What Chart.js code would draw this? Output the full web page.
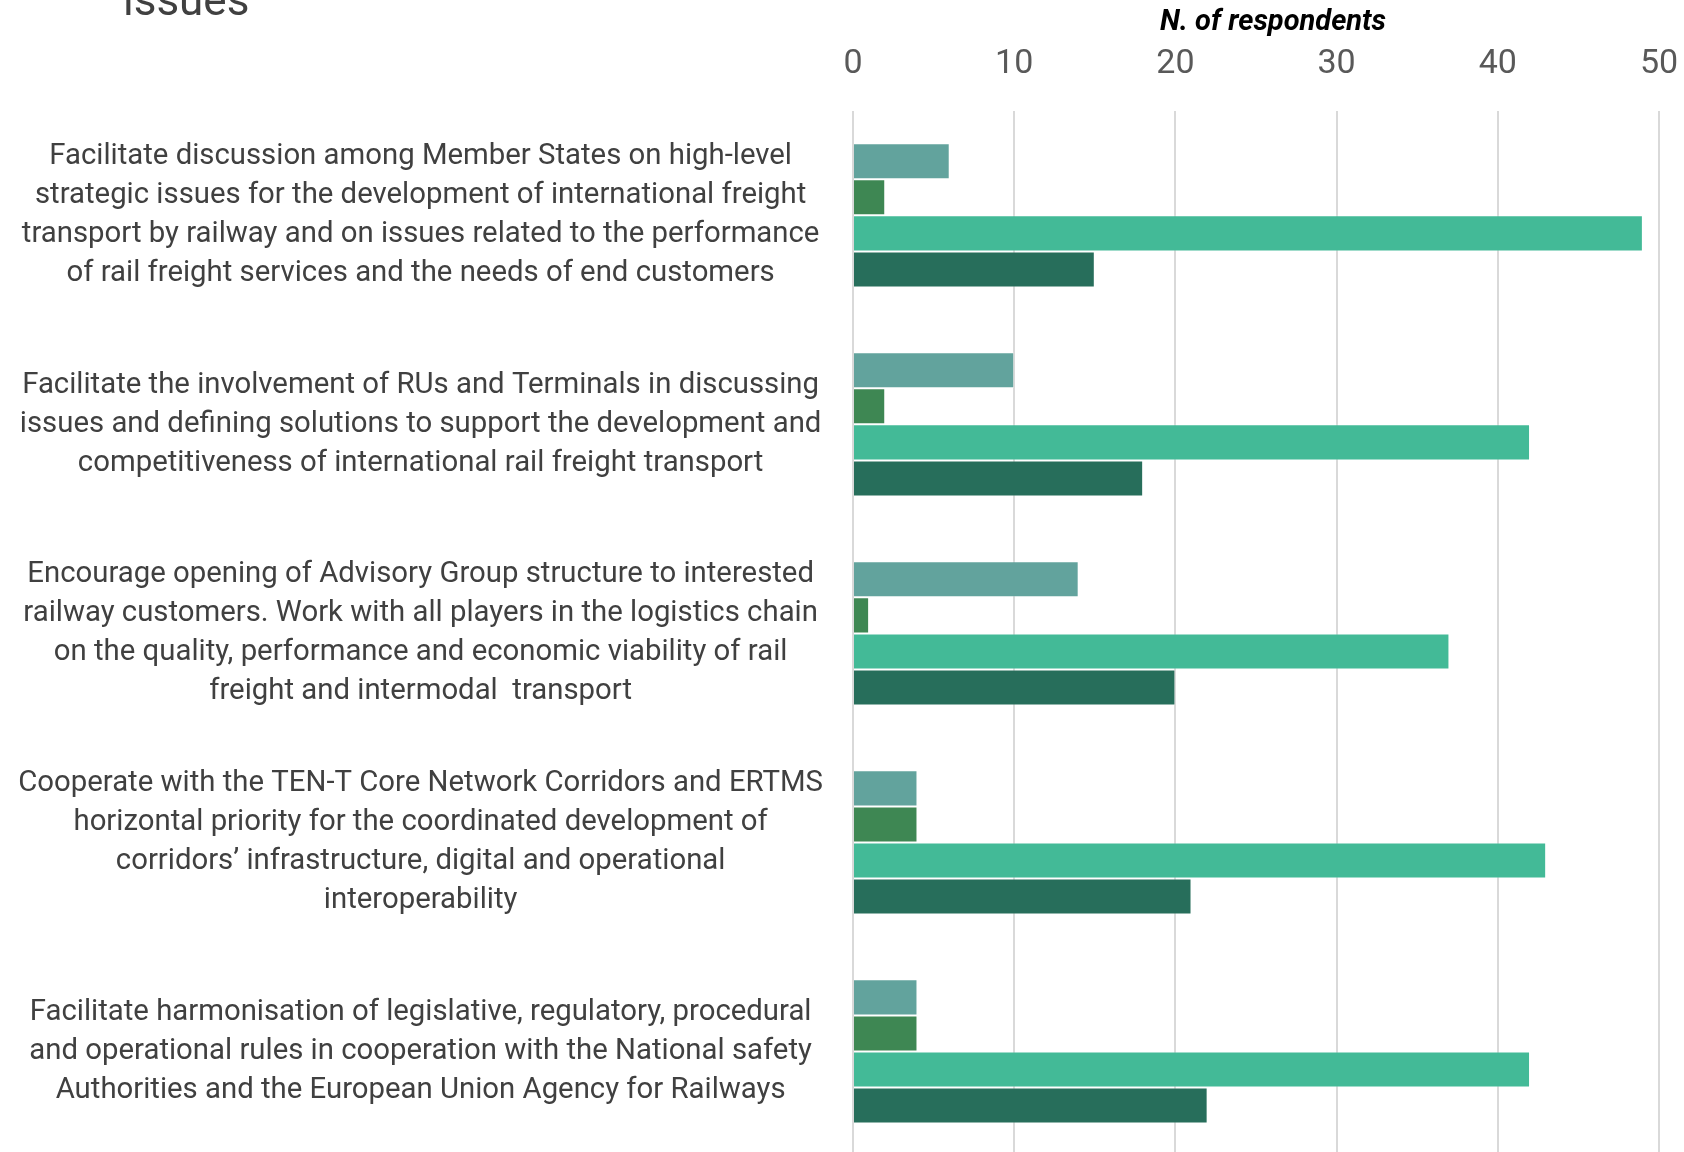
<!DOCTYPE html>
<html>
<head>
<meta charset="utf-8">
<script src="https://cdn.jsdelivr.net/npm/chart.js@4.4.1/dist/chart.umd.min.js"></script>
<style>
  html, body { margin: 0; padding: 0; background: #fff; overflow: hidden; }
  #wrap { position: relative; width: 1684px; height: 1152px; overflow: hidden; }
  #titulo {
    position: absolute; left: 123px; top: -22px;
    font-family: Roboto, sans-serif;
    font-size: 44px; color: #404040; line-height: 1;
  }
  #tituloEje {
    position: absolute; left: 1273px; top: 20px;
    transform: translate(-50%, -50%);
    font-family: Roboto, sans-serif; font-weight: bold; font-style: italic;
    font-size: 29px; color: #000; white-space: nowrap;
  }
  #grafico { position: absolute; left: 0; top: 0; }
</style>
</head>
<body>
<div id="wrap">
  <canvas id="grafico" width="1684" height="1160"></canvas>
  <div id="titulo">issues</div>
  <div id="tituloEje"></div>
</div>
<script>
// Categorías (cada una partida en líneas como en el original)
const categorias = [
  ["Facilitate discussion among Member States on high-level",
   "strategic issues for the development of international freight",
   "transport by railway and on issues related to the performance",
   "of rail freight services and the needs of end customers"],
  ["Facilitate the involvement of RUs and Terminals in discussing",
   "issues and defining solutions to support the development and",
   "competitiveness of international rail freight transport"],
  ["Encourage opening of Advisory Group structure to interested",
   "railway customers. Work with all players in the logistics chain",
   "on the quality, performance and economic viability of rail",
   "freight and intermodal  transport"],
  ["Cooperate with the TEN-T Core Network Corridors and ERTMS",
   "horizontal priority for the coordinated development of",
   "corridors\u2019 infrastructure, digital and operational",
   "interoperability"],
  ["Facilitate harmonisation of legislative, regulatory, procedural",
   "and operational rules in cooperation with the National safety",
   "Authorities and the European Union Agency for Railways"]
];

// Valores por serie (de arriba hacia abajo dentro de cada grupo)
const serie1 = [6, 10, 14, 4, 4];
const serie2 = [2, 2, 1, 4, 4];
const serie3 = [49, 42, 37, 43, 42];
const serie4 = [15, 18, 20, 21, 22];

const ticksX = [0, 10, 20, 30, 40, 50];
const tituloX = "N. of respondents";

const colores = ["#62a39d", "#3e8753", "#43ba97", "#276e5b"];
const fuente = "Roboto, 'Open Sans', sans-serif";

document.getElementById("tituloEje").textContent = tituloX;

// Ajustar tamaño de letra para que la línea más larga mida ~805px
function tamanoEtiquetas() {
  const c = document.createElement("canvas").getContext("2d");
  c.font = "100px " + fuente;
  let maximo = 0;
  categorias.forEach(lineas => lineas.forEach(l => {
    maximo = Math.max(maximo, c.measureText(l).width);
  }));
  return 100 * 805 / maximo;
}
const tamLetra = tamanoEtiquetas();

function crearDataset(nombre, datos, color) {
  return {
    label: nombre,
    data: datos,
    backgroundColor: color,
    borderColor: "rgba(255,255,255,0.3)",
    borderWidth: 1,
    categoryPercentage: 0.69,
    barPercentage: 1.0
  };
}

const ctx = document.getElementById("grafico").getContext("2d");
const chart = new Chart(ctx, {
  type: "bar",
  data: {
    labels: categorias,
    datasets: [
      crearDataset("Serie 1", serie1, colores[0]),
      crearDataset("Serie 2", serie2, colores[1]),
      crearDataset("Serie 3", serie3, colores[2]),
      crearDataset("Serie 4", serie4, colores[3])
    ]
  },
  options: {
    indexAxis: "y",
    responsive: false,
    animation: false,
    layout: { padding: { left: 17, right: 25, top: 18, bottom: 4 } },
    plugins: {
      legend: { display: false },
      tooltip: { enabled: false }
    },
    scales: {
      x: {
        position: "top",
        min: ticksX[0],
        max: ticksX[ticksX.length - 1],
        afterBuildTicks: (scale) => { scale.ticks = ticksX.map(v => ({ value: v })); },
        afterFit: (scale) => {
          scale.paddingLeft = 0;
          scale.paddingRight = 0;
        },
        grid: { color: "#d9d9d9", lineWidth: 2, drawTicks: false },
        border: { display: false },
        ticks: {
          color: "#595959",
          padding: 26,
          font: { family: fuente, size: 34, lineHeight: 1.2 }
        }
      },
      y: {
        afterFit: (scale) => {
          // ancho fijo del eje y sin relleno extra arriba/abajo
          scale.width = 836;
          scale.paddingTop = 0;
          scale.paddingBottom = 0;
        },
        grid: { display: false, drawTicks: false },
        border: { display: false },
        ticks: {
          color: "#404040",
          crossAlign: "center",
          padding: 30,
          autoSkip: false,
          font: { family: fuente, size: tamLetra, lineHeight: 39 / tamLetra }
        }
      }
    }
  }
});
</script>
</body>
</html>
